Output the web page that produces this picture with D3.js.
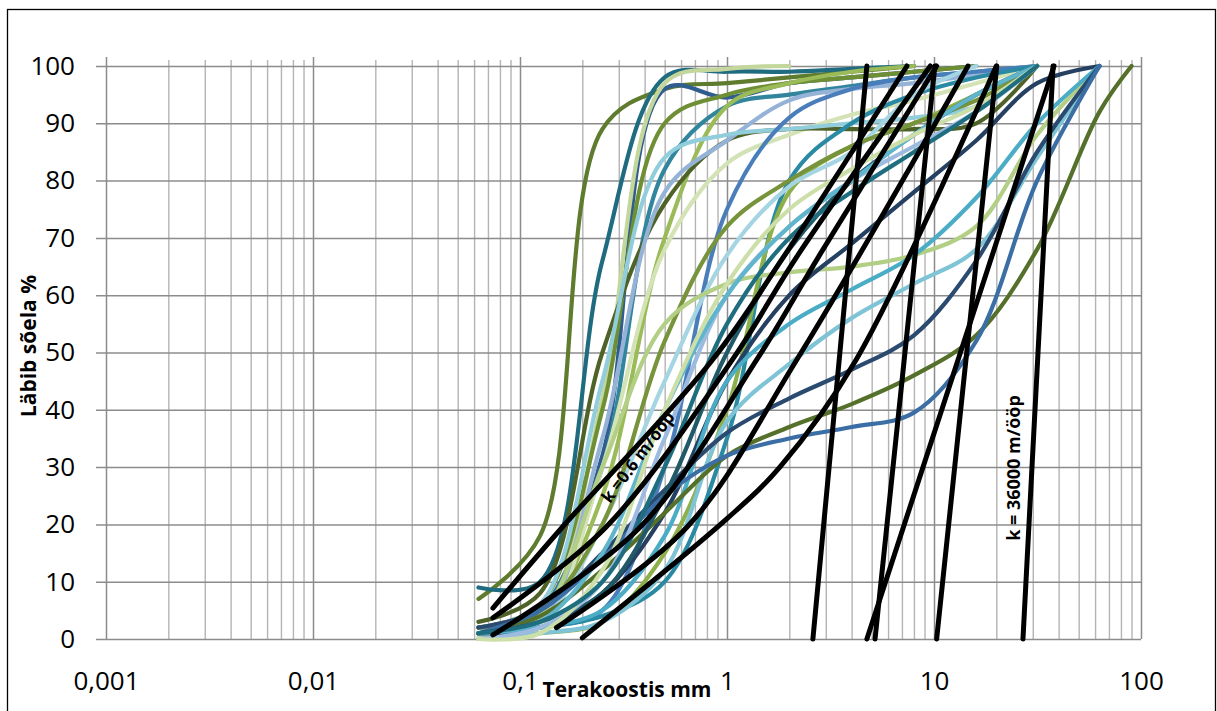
<!DOCTYPE html>
<html>
<head>
<meta charset="utf-8">
<script src="https://cdn.jsdelivr.net/npm/d3@7"></script>
<style>
  body { margin: 0; background: #fff; }
  svg { display: block; font-family: "Open Sans", "Liberation Sans", sans-serif; }
</style>
</head>
<body>
<svg id="chart" width="1217" height="711"></svg>
<script>
// sieve sizes (mm) shared by every sample curve
var sizes = [0.063, 0.125, 0.25, 0.5, 1, 2, 4, 8, 16, 31.5, 63, 90]

// passing % per sample, aligned with sizes (curve stops when it reaches 100)
var sampleColors = [
  '#5e7b2e', '#1f6b7f', '#2f5d8f', '#c3d69b', '#6f8f35', '#31859c', '#9bbb59', '#d4e3b5',
  '#4f6228', '#95b3d7', '#92cddc', '#4a7ebb', '#2b8aa3', '#8db04a', '#a5d5e2', '#77933c',
  '#b3cf85', '#254061', '#4bacc6', '#7fc4d6', '#2a4a6f', '#55702a', '#3a6ea5', '#215968',
  '#9dbbe0', '#5fb5cc', '#cddfa9', '#1f6e80'
]
var sampleValues = [
  [7, 18, 89, 96, 97, 98, 99, 100],
  [9, 10, 66, 98, 99, 99, 99.5, 100],
  [2, 5, 32, 96, 94.5, 97, 98, 99, 100],
  [1, 3, 42, 97, 99.5, 100],
  [2, 6, 40, 90, 95, 97, 98, 99, 100],
  [2, 5, 30, 82, 93, 95, 96.5, 98, 99, 100],
  [1, 4, 25, 70, 93, 97, 99, 100],
  [0.5, 2, 30, 68, 83, 88, 91.5, 94, 97, 100],
  [3, 8, 50, 76, 87, 89, 89, 89, 90, 100],
  [1, 3, 35, 78, 87, 94, 96, 97, 98.5, 100],
  [2, 6, 45, 84, 88, 89, 90, 91, 93, 100],
  [1, 2, 5, 30, 75, 91, 96, 98, 99, 100],
  [1, 2, 4, 10, 35, 80, 90, 95, 98, 100],
  [0, 1, 3, 15, 40, 78, 86, 90, 95, 100],
  [1, 3, 20, 45, 67, 79, 85, 95, 100],
  [2, 5, 20, 52, 72, 80, 86, 90, 94, 100],
  [1, 4, 30, 55, 62, 64, 65, 67, 72, 88, 100],
  [1, 2, 8, 22, 45, 60, 69, 78, 87, 97, 100],
  [1, 2, 5, 18, 45, 55, 61, 67, 77, 90, 100],
  [0, 1, 3, 12, 38, 48, 56, 62, 68, 84, 100],
  [2, 5, 15, 26, 36, 42, 47, 53, 66, 85, 100],
  [1, 4, 12, 22, 32, 37, 41, 46, 53, 68, 92, 100],
  [1, 5, 14, 25, 32, 35, 37, 39.5, 52, 80, 100],
  [1, 3, 8, 25, 50, 68, 80, 88, 95, 100],
  [0, 2, 10, 35, 60, 72, 80, 86, 92, 100],
  [1, 3, 15, 40, 60, 72, 80, 88, 95, 100],
  [0, 1, 12, 40, 62, 75, 82, 88, 93, 100],
  [1, 3, 10, 30, 55, 70, 78, 85, 92, 100]
]

// black filter-coefficient curves: [mm, %] pairs
var kCurves = [
  [[0.074, 5.4], [0.16, 19.5], [0.85, 48.7], [1.9, 67], [7.4, 100]],
  [[0.074, 3.7], [0.26, 19.5], [1.06, 48.7], [2.2, 67], [9.6, 100]],
  [[0.074, 0.7], [0.38, 19.5], [1.39, 48.7], [2.8, 67], [10.3, 100]],
  [[0.15, 2], [0.64, 19.5], [2.17, 48.7], [14.6, 100]],
  [[0.2, 0.2], [1.0, 21], [1.8, 30], [4.2, 48.7], [20, 100]]
]
var kLines = [
  [[2.6, 0], [4.74, 100]],
  [[5.19, 0], [10.1, 100]],
  [[4.74, 0], [38, 100]],
  [[10.3, 0], [20.1, 100]],
  [[26.9, 0], [37.6, 100]]
]

var xTicks = [0.001, 0.01, 0.1, 1, 10, 100]
var xTickLabels = ['0,001', '0,01', '0,1', '1', '10', '100']
var yTicks = [0, 10, 20, 30, 40, 50, 60, 70, 80, 90, 100]

var plot = { left: 106, right: 1141, top: 66, bottom: 639 }

var svg = d3.select('#chart')

// outer frame
svg.append('rect')
  .attr('x', 7.5).attr('y', 9.5)
  .attr('width', 1208).attr('height', 720)
  .attr('fill', 'none').attr('stroke', '#000').attr('stroke-width', 1.3)

var x = d3.scaleLog().domain([0.001, 100]).range([plot.left, plot.right])
var y = d3.scaleLinear().domain([0, 100]).range([plot.bottom, plot.top])

// minor log ticks
var minorTicks = []
xTicks.slice(0, -1).forEach(function(d) {
  for (var k = 2; k <= 9; k++) minorTicks.push(d * k)
})

var minorAxis = d3.axisBottom(x)
  .tickValues(minorTicks)
  .tickSize(-(plot.bottom - plot.top + 6))
  .tickFormat('')
svg.append('g')
  .attr('transform', 'translate(0,' + plot.bottom + ')')
  .call(minorAxis)
  .call(function(g) {
    g.select('.domain').remove()
    g.selectAll('.tick line').attr('stroke', '#b4b4b4').attr('stroke-width', 1.4)
  })

// y grid + labels
var yAxis = d3.axisLeft(y)
  .tickValues(yTicks)
  .tickSize(-(plot.right - plot.left + 10))
  .tickPadding(21)
svg.append('g')
  .attr('transform', 'translate(' + (plot.left - 10) + ',0)')
  .call(yAxis)
  .call(function(g) {
    g.select('.domain').remove()
    g.selectAll('.tick line').attr('stroke', '#8c8c8c').attr('stroke-width', 1.5)
    g.selectAll('.tick text')
      .attr('font-size', 26).attr('fill', '#000')
      .attr('font-family', '"Open Sans", sans-serif')
  })

// decade lines + x labels
var xAxis = d3.axisBottom(x)
  .tickValues(xTicks)
  .tickSize(-(plot.bottom - plot.top + 9))
  .tickFormat(function(d, i) { return xTickLabels[i] })
svg.append('g')
  .attr('transform', 'translate(0,' + plot.bottom + ')')
  .call(xAxis)
  .call(function(g) {
    g.select('.domain').remove()
    g.selectAll('.tick line').attr('stroke', '#8c8c8c').attr('stroke-width', 1.5)
    g.selectAll('.tick text')
      .attr('font-size', 26).attr('fill', '#000')
      .attr('font-family', '"Open Sans", sans-serif')
      .attr('y', 51).attr('dy', 0)
  })

// smooth like the spreadsheet lines
var line = d3.line()
  .x(function(d) { return x(d[0]) })
  .y(function(d) { return y(d[1]) })
  .curve(d3.curveCatmullRom.alpha(0.5))

var samples = sampleValues.map(function(vals, i) {
  return { color: sampleColors[i], pts: vals.map(function(v, j) { return [sizes[j], v] }) }
})

svg.append('g').selectAll('path')
  .data(samples)
  .join('path')
  .attr('d', function(d) { return line(d.pts) })
  .attr('fill', 'none')
  .attr('stroke', function(d) { return d.color })
  .attr('stroke-width', 4.2)
  .attr('stroke-linecap', 'round')

svg.append('g').selectAll('path')
  .data(kCurves.concat(kLines))
  .join('path')
  .attr('d', line)
  .attr('fill', 'none')
  .attr('stroke', '#000')
  .attr('stroke-width', 5)
  .attr('stroke-linecap', 'round')

// annotations
svg.append('text')
  .attr('transform', 'translate(638,457) rotate(-53)')
  .attr('text-anchor', 'middle').attr('dy', '0.35em')
  .attr('font-size', 17).attr('font-weight', 'bold')
  .text('k =0.6 m/ööp')

svg.append('text')
  .attr('transform', 'translate(1014,468) rotate(-90)')
  .attr('text-anchor', 'middle').attr('dy', '0.35em')
  .attr('font-size', 18).attr('font-weight', 'bold')
  .text('k = 36000 m/ööp')

// axis titles
svg.append('text')
  .attr('x', 627).attr('y', 697)
  .attr('text-anchor', 'middle')
  .attr('font-size', 21).attr('font-weight', 'bold')
  .text('Terakoostis mm')

svg.append('text')
  .attr('transform', 'translate(29,346) rotate(-90)')
  .attr('text-anchor', 'middle').attr('dy', '0.35em')
  .attr('font-size', 21).attr('font-weight', 'bold')
  .text('Läbib sõela %')
</script>
</body>
</html>
